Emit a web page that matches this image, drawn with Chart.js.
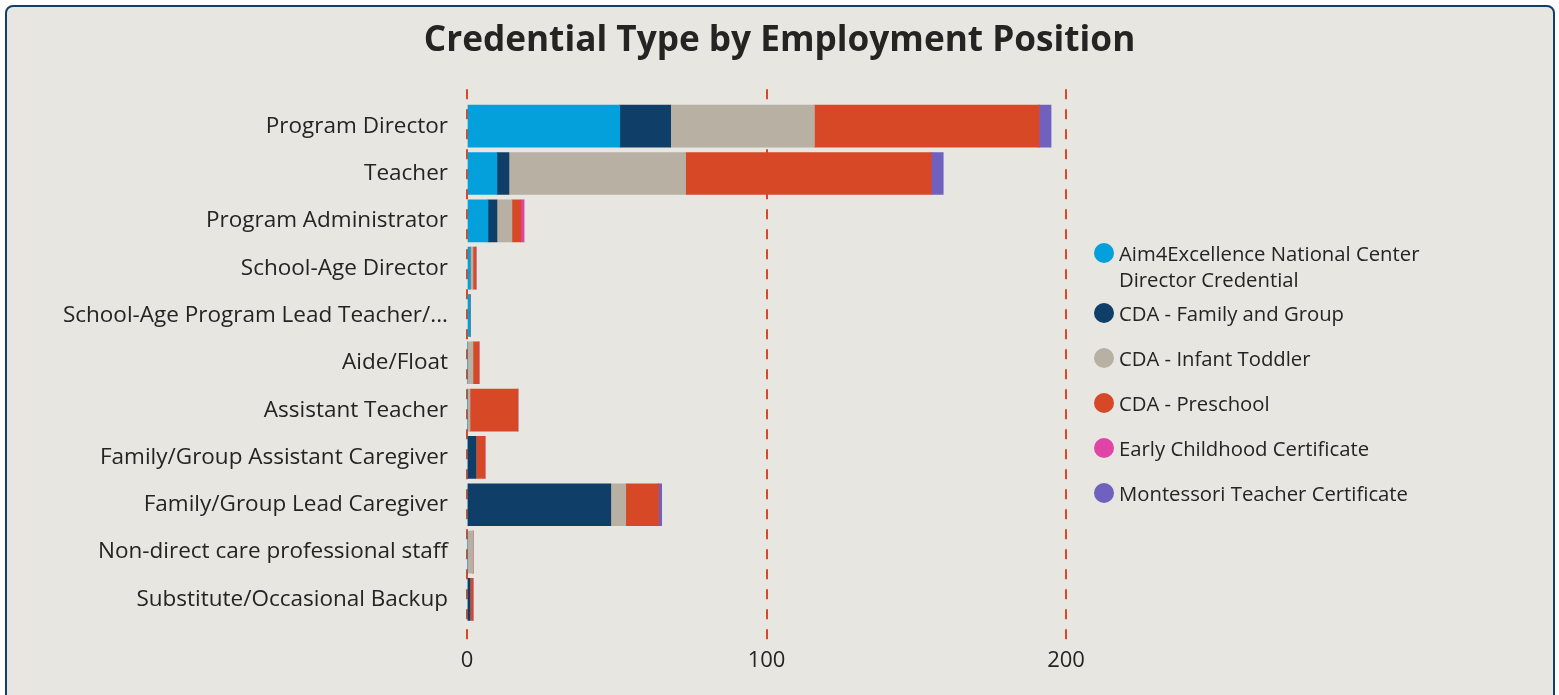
<!DOCTYPE html>
<html>
<head>
<meta charset="utf-8">
<script src="https://cdn.jsdelivr.net/npm/chart.js@4.4.1/dist/chart.umd.min.js"></script>
<style>
  html, body { margin: 0; padding: 0; background: #ffffff; width: 1559px; height: 695px; overflow: hidden; }
  #card { position: absolute; left: 5px; top: 5px; width: 1550px; height: 720px; box-sizing: border-box;
          border: 2px solid #123f69; border-radius: 8px; background: #e7e6e1; }
  #c { position: absolute; left: 0; top: 0; }
  #legend { position: absolute; left: 0; top: 0; font-family: "Open Sans", sans-serif; font-size: 20.3px; color: #252423; }
  .li { position: absolute; left: 1094px; width: 360px; }
  .dot { position: absolute; left: 0; top: 3px; width: 20px; height: 20px; border-radius: 50%; }
  .lt { position: absolute; left: 25px; width: 325px; line-height: 26px; }
</style>
</head>
<body>
<div id="card"></div>
<canvas id="c" width="1559" height="695"></canvas>
<div id="legend"></div>
<script>
const categories = [
  "Program Director",
  "Teacher",
  "Program Administrator",
  "School-Age Director",
  "School-Age Program Lead Teacher/...",
  "Aide/Float",
  "Assistant Teacher",
  "Family/Group Assistant Caregiver",
  "Family/Group Lead Caregiver",
  "Non-direct care professional staff",
  "Substitute/Occasional Backup"
];
const seriesNames = [
  "Aim4Excellence National Center Director Credential",
  "CDA - Family and Group",
  "CDA - Infant Toddler",
  "CDA - Preschool",
  "Early Childhood Certificate",
  "Montessori Teacher Certificate"
];
const seriesColors = ["#04a0db", "#0f3f69", "#b7b0a3", "#d64826", "#e044a7", "#6f61be"];
const aim4Excellence   = [51, 10, 7, 1, 1, 0, 0, 0, 0, 0, 0];
const cdaFamilyGroup   = [17, 4, 3, 0, 0, 0, 0, 3, 48, 0, 1];
const cdaInfantToddler = [48, 59, 5, 1, 0, 2, 1, 0, 5, 2, 0];
const cdaPreschool     = [75, 82, 3, 1, 0, 2, 16, 3, 11, 0, 1];
const earlyChildhood   = [0, 0, 1, 0, 0, 0, 0, 0, 0, 0, 0];
const montessori       = [4, 4, 0, 0, 0, 0, 0, 0, 1, 0, 0];
const xTickValues = [0, 100, 200];

const seriesValues = [aim4Excellence, cdaFamilyGroup, cdaInfantToddler, cdaPreschool, earlyChildhood, montessori];
const textColor = "#252423";
const fontFamily = "'Open Sans', sans-serif";

const datasets = seriesValues.map((vals, s) => ({
  label: seriesNames[s],
  data: vals.map((v, i) => ({ x: v, y: i })),
  backgroundColor: seriesColors[s],
  borderWidth: 0,
  barThickness: 42
}));

new Chart(document.getElementById("c"), {
  type: "bar",
  data: { datasets },
  options: {
    indexAxis: "y",
    responsive: false,
    devicePixelRatio: 1,
    animation: false,
    layout: { padding: { left: 0, right: 0, top: 0, bottom: 14.6 } },
    plugins: {
      legend: { display: false },
      tooltip: { enabled: false },
      title: {
        display: true,
        text: "Credential Type by Employment Position",
        color: textColor,
        font: { family: fontFamily, size: 35.2, weight: "bold" },
        padding: { top: 20, bottom: 27 }
      }
    },
    scales: {
      x: {
        type: "linear",
        stacked: true,
        min: 0,
        max: 205,
        afterBuildTicks: (s) => { s.ticks = xTickValues.map(v => ({ value: v })); },
        ticks: { padding: 6, color: textColor, font: { family: fontFamily, size: 22 } },
        grid: { color: "#d64827", lineWidth: 2, drawTicks: false },
        border: { display: false, dash: [10, 10] }
      },
      y: {
        type: "linear",
        stacked: true,
        reverse: true,
        offset: false,
        min: -0.78,
        max: 10.9,
        afterBuildTicks: (s) => { s.ticks = categories.map((_, i) => ({ value: i })); },
        afterFit: (s) => { s.width = 467; },
        ticks: {
          autoSkip: false,
          padding: 19,
          color: textColor,
          font: { family: fontFamily, size: 22.5 },
          callback: (v) => categories[v]
        },
        grid: { display: false, drawTicks: false },
        border: { display: false }
      },
      legendSpace: {
        type: "linear",
        position: "right",
        display: true,
        afterFit: (s) => { s.width = 478; },
        ticks: { display: false },
        grid: { display: false, drawTicks: false },
        border: { display: false }
      }
    }
  }
});

// Legend
const legend = document.getElementById("legend");
let y = 240;
seriesNames.forEach((name, s) => {
  const item = document.createElement("div");
  item.className = "li";
  item.style.top = y + "px";
  const dot = document.createElement("div");
  dot.className = "dot";
  dot.style.background = seriesColors[s];
  const t = document.createElement("div");
  t.className = "lt";
  t.textContent = name;
  item.appendChild(dot);
  item.appendChild(t);
  legend.appendChild(item);
  const lines = Math.max(1, Math.round(t.offsetHeight / 26));
  y += 45 + (lines - 1) * 15;
});
</script>
</body>
</html>
